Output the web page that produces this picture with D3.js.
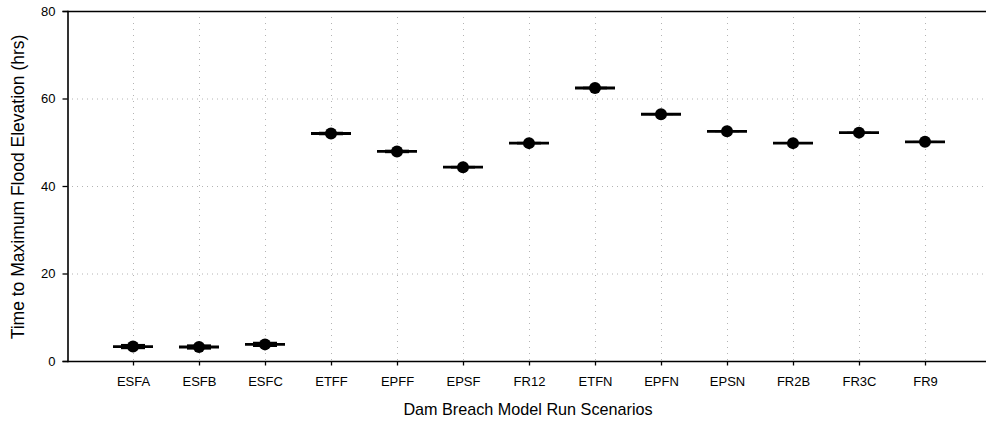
<!doctype html>
<html lang="en">
  <head>
    <meta charset="utf-8">
    <title>Time to Maximum Flood Elevation</title>
    <script src="https://d3js.org/d3.v7.min.js"></script>
    <style>
      body { margin: 0; background: #fff; }
      text { font-family: Arial, "Liberation Sans", sans-serif; fill: #000; }
    </style>
  </head>

  <body>
    <svg width="986" height="424"></svg>
    <script>
      var scenarios = ['ESFA', 'ESFB', 'ESFC', 'ETFF', 'EPFF', 'EPSF', 'FR12',
                       'ETFN', 'EPFN', 'EPSN', 'FR2B', 'FR3C', 'FR9'];
      // median time to peak (hrs)
      var medians = [3.3, 3.2, 3.8, 52.0, 47.9, 44.3, 49.8, 62.4, 56.4, 52.5, 49.8, 52.2, 50.1];
      // spread of the box (hrs), lower and upper quartile
      var lowQ  = [2.7, 2.6, 3.2, 51.6, 47.5, 44.0, 49.5, 62.1, 56.2, 52.3, 49.6, 52.0, 49.9];
      var highQ = [3.9, 3.8, 4.4, 52.4, 48.3, 44.6, 50.1, 62.7, 56.6, 52.7, 50.0, 52.4, 50.3];
      var yTicks = [0, 20, 40, 60, 80];

      var svg = d3.select('svg');
      var plotLeft = 67, plotTop = 11, plotBottom = 361, plotRight = 986;

      var x = d3.scalePoint().domain(scenarios).range([133, 925]);
      var y = d3.scaleLinear().domain([0, 80]).range([plotBottom, plotTop]);

      // dotted grid
      svg.append('g').selectAll('line').data(yTicks.slice(1, 4)).enter()
        .append('line')
          .attr('x1', plotLeft).attr('x2', plotRight)
          .attr('y1', function(d){ return y(d) + 0.5; })
          .attr('y2', function(d){ return y(d) + 0.5; })
          .style('stroke', '#b4b4b4').style('stroke-dasharray', '1,4');

      svg.append('g').selectAll('line').data(scenarios).enter()
        .append('line')
          .attr('x1', function(d){ return x(d) + 0.5; })
          .attr('x2', function(d){ return x(d) + 0.5; })
          .attr('y1', plotTop).attr('y2', plotBottom)
          .style('stroke', '#b4b4b4').style('stroke-dasharray', '1,5');

      // frame
      svg.append('line').attr('x1', plotLeft).attr('x2', plotRight)
        .attr('y1', plotTop + 0.5).attr('y2', plotTop + 0.5)
        .style('stroke', '#000').style('stroke-width', 1.5);

      var yAxis = svg.append('g')
        .attr('transform', 'translate(' + (plotLeft + 0.5) + ',0)')
        .call(d3.axisLeft(y).tickValues(yTicks).tickSize(5).tickPadding(7));
      var xAxis = svg.append('g')
        .attr('transform', 'translate(0,' + (plotBottom + 0.5) + ')')
        .call(d3.axisBottom(x).tickSize(4).tickPadding(11));
      xAxis.select('.domain').attr('d', 'M' + plotLeft + ',0H' + plotRight);

      [yAxis, xAxis].forEach(function(a){
        a.select('.domain').style('stroke', '#000').style('stroke-width', 1.6);
        a.selectAll('.tick line').style('stroke', '#000').style('stroke-width', 1.3);
        a.selectAll('text').style('font-size', '13px').style('fill', '#000');
      });

      // boxes, median lines and dots
      var marks = svg.append('g').selectAll('g').data(scenarios).enter().append('g');

      marks.append('rect')
        .attr('x', function(d){ return x(d) - 12; })
        .attr('width', 24)
        .attr('y', function(d, i){ return y(highQ[i]); })
        .attr('height', function(d, i){ return Math.max(1, y(lowQ[i]) - y(highQ[i])); })
        .style('fill', '#000');

      marks.append('line')
        .attr('x1', function(d){ return x(d) - 20; })
        .attr('x2', function(d){ return x(d) + 20; })
        .attr('y1', function(d, i){ return y(medians[i]); })
        .attr('y2', function(d, i){ return y(medians[i]); })
        .style('stroke', '#000').style('stroke-width', 2.8);

      marks.append('circle')
        .attr('cx', function(d){ return x(d); })
        .attr('cy', function(d, i){ return y(medians[i]); })
        .attr('r', 6)
        .style('fill', '#000');

      // titles
      svg.append('text')
        .attr('x', 528).attr('y', 415)
        .attr('text-anchor', 'middle')
        .style('font-size', '16.2px')
        .text('Dam Breach Model Run Scenarios');

      svg.append('text')
        .attr('transform', 'translate(24,187) rotate(-90)')
        .attr('text-anchor', 'middle')
        .style('font-size', '17.5px')
        .text('Time to Maximum Flood Elevation (hrs)');
    </script>
  </body>
</html>
